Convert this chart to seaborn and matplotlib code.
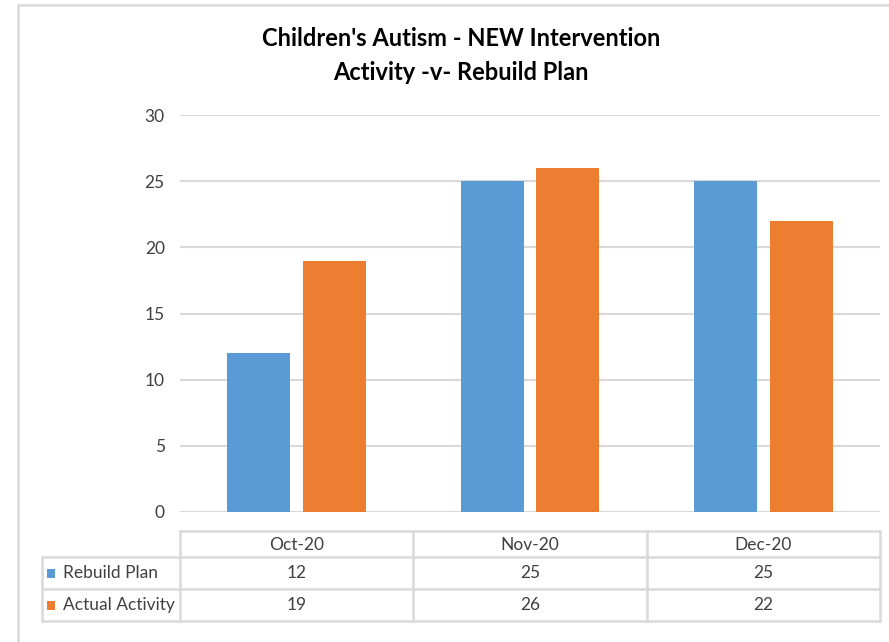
import matplotlib
matplotlib.use("Agg")
import matplotlib.pyplot as plt
import pandas as pd
import seaborn as sns
from matplotlib.patches import Rectangle

# Data
months = ["Oct-20", "Nov-20", "Dec-20"]
rebuild_plan = [12, 25, 25]
actual_activity = [19, 26, 22]
series_names = ["Rebuild Plan", "Actual Activity"]
y_ticks = [0, 5, 10, 15, 20, 25, 30]

BLUE = "#5B9BD5"
ORANGE = "#ED7D31"
GRID = "#D9D9D9"
TEXT = "#404040"

sns.set_theme(style="white")
plt.rcParams["font.family"] = ["Lato", "DejaVu Sans"]

df = pd.DataFrame({
    "month": months * 2,
    "series": [series_names[0]] * 3 + [series_names[1]] * 3,
    "value": rebuild_plan + actual_activity,
})

W, H = 889, 642
fig = plt.figure(figsize=(W / 100, H / 100), dpi=100)

# pixel helpers for placing axes
def px_box(x0, y0, x1, y1):
    return [x0 / W, 1 - y1 / H, (x1 - x0) / W, (y1 - y0) / H]

# outer chart frame (cropped at the right/bottom)
fig.patches.append(Rectangle((18 / W, -0.1), 1.2, 1 - 5 / H + 0.1,
                             transform=fig.transFigure, fill=False,
                             edgecolor=GRID, linewidth=1.8))

ax = fig.add_axes(px_box(180, 115, 880, 512))
sns.barplot(data=df, x="month", y="value", hue="series", ax=ax,
            palette=[BLUE, ORANGE], width=0.651, gap=0.171,
            saturation=1, legend=False, edgecolor="none", linewidth=0)
ax.set_xlim(-0.5, 2.5)
ax.set_ylim(0, 30)
ax.set_yticks(y_ticks)
ax.set_yticklabels([str(t) for t in y_ticks], fontsize=12.5, color=TEXT)
ax.tick_params(axis="y", length=0, pad=11)
ax.set_xticks([])
ax.set_xlabel("")
ax.set_ylabel("")
ax.yaxis.grid(True, color=GRID, linewidth=1.5)
ax.set_axisbelow(True)
for s in ax.spines.values():
    s.set_visible(False)

fig.text(461 / W, 1 - 39 / H, "Children's Autism - NEW Intervention",
         ha="center", va="center", fontsize=17, fontweight="bold", color="black")
fig.text(461 / W, 1 - 73 / H, "Activity -v- Rebuild Plan",
         ha="center", va="center", fontsize=17, fontweight="bold", color="black")

# data table below the plot
tax = fig.add_axes(px_box(42, 531, 880, 621))
unit = 700 / 3
left = -0.5 - (180 - 42) / unit
tax.set_xlim(left, 2.5)
tax.set_ylim(90, 0)
tax.axis("off")

lw = 1.8
bounds = [-0.5, 0.5, 1.5, 2.5]
row_y = [0, 26, 58, 90]
# header row borders
tax.plot([-0.5, 2.5], [0, 0], color=GRID, lw=lw, clip_on=False)
for yy in row_y[1:]:
    tax.plot([left, 2.5], [yy, yy], color=GRID, lw=lw, clip_on=False)
for xx in bounds:
    tax.plot([xx, xx], [0, 90], color=GRID, lw=lw, clip_on=False)
tax.plot([left, left], [26, 90], color=GRID, lw=lw, clip_on=False)

for i, m in enumerate(months):
    tax.text(i, 14, m, ha="center", va="center", fontsize=12.5, color=TEXT)

rows = [rebuild_plan, actual_activity]
colors = [BLUE, ORANGE]
for r, (name, vals, c) in enumerate(zip(series_names, rows, colors)):
    yc = (row_y[r + 1] + row_y[r + 2]) / 2
    tax.add_patch(Rectangle((left + 5 / unit, yc - 4.5), 8 / unit, 9,
                            facecolor=c, edgecolor="none", clip_on=False))
    tax.text(left + 21 / unit, yc, name, ha="left", va="center",
             fontsize=12.5, color=TEXT)
    for i, v in enumerate(vals):
        tax.text(i, yc, str(v), ha="center", va="center", fontsize=12.5, color=TEXT)

fig.savefig("out.png", dpi=100)
